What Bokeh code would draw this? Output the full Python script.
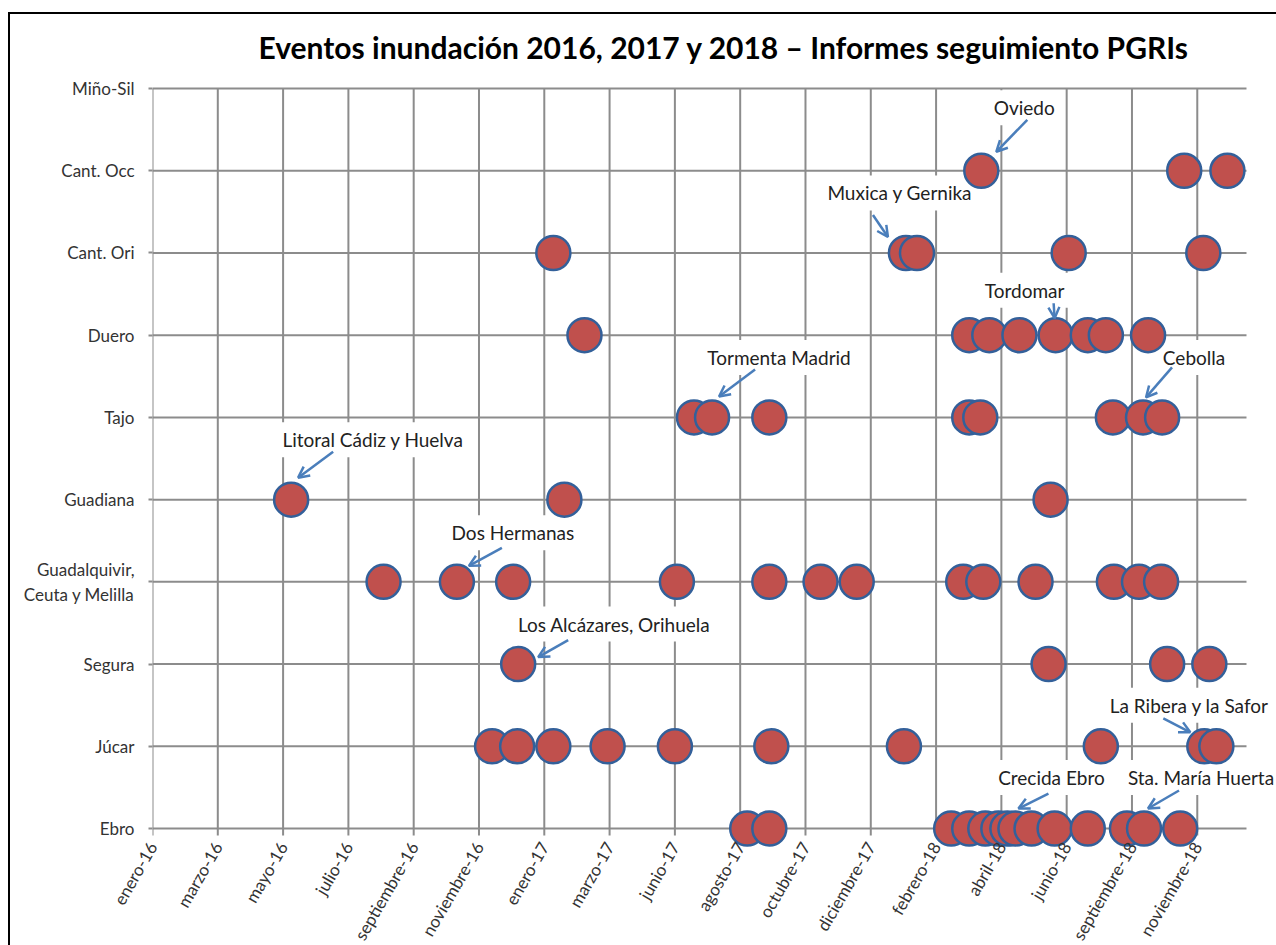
import math
import pandas as pd
from bokeh.plotting import figure
from bokeh.models import ColumnDataSource, Range1d, FixedTicker, Label, Arrow, OpenHead
from bokeh.embed import file_html
from bokeh.resources import INLINE

# ---------------- data ----------------
title_text = "Eventos inundación 2016, 2017 y 2018 – Informes seguimiento PGRIs"

basins = ["Miño-Sil", "Cant. Occ", "Cant. Ori", "Duero", "Tajo", "Guadiana",
          "Guadalquivir,\nCeuta y Melilla", "Segura", "Júcar", "Ebro"]

mino_sil = []
cant_occ = ["2018-04-05", "2018-10-24", "2018-12-06"]
cant_ori = ["2017-02-03", "2018-01-20", "2018-01-31", "2018-07-01", "2018-11-12"]
duero = ["2017-03-06", "2018-03-24", "2018-04-13", "2018-05-13", "2018-06-18",
         "2018-07-20", "2018-08-07", "2018-09-18"]
tajo = ["2017-06-23", "2017-07-11", "2017-09-06", "2018-03-24", "2018-04-04",
        "2018-08-14", "2018-09-13", "2018-10-02"]
guadiana = ["2016-05-18", "2017-02-14", "2018-06-13"]
guadalquivir = ["2016-08-18", "2016-10-30", "2016-12-25", "2017-06-06", "2017-09-06",
                "2017-10-27", "2017-12-02", "2018-03-18", "2018-04-07", "2018-05-29",
                "2018-08-15", "2018-09-09", "2018-10-01"]
segura = ["2016-12-30", "2018-06-11", "2018-10-07", "2018-11-18"]
jucar = ["2016-12-04", "2016-12-29", "2017-02-03", "2017-03-29", "2017-06-04",
         "2017-09-08", "2018-01-18", "2018-08-02", "2018-11-13", "2018-11-25"]
ebro = ["2017-08-15", "2017-09-06", "2018-03-06", "2018-03-24", "2018-04-09",
        "2018-04-22", "2018-05-01", "2018-05-09", "2018-05-25", "2018-06-17",
        "2018-07-20", "2018-08-28", "2018-09-14", "2018-10-20"]

events = [mino_sil, cant_occ, cant_ori, duero, tajo, guadiana,
          guadalquivir, segura, jucar, ebro]

tick_dates = ["2016-01-01", "2016-03-06", "2016-05-10", "2016-07-14", "2016-09-17",
              "2016-11-21", "2017-01-25", "2017-03-31", "2017-06-04", "2017-08-08",
              "2017-10-12", "2017-12-16", "2018-02-19", "2018-04-25", "2018-06-29",
              "2018-09-02", "2018-11-06"]
tick_labels = ["enero-16", "marzo-16", "mayo-16", "julio-16", "septiembre-16",
               "noviembre-16", "enero-17", "marzo-17", "junio-17", "agosto-17",
               "octubre-17", "diciembre-17", "febrero-18", "abril-18", "junio-18",
               "septiembre-18", "noviembre-18"]

x_start_date = "2016-01-01"
x_end_date = "2018-12-25"

# annotations: text, target basin, target event date
annotations = [
    ("Oviedo", "Cant. Occ", "2018-04-05"),
    ("Muxica y Gernika", "Cant. Ori", "2018-01-20"),
    ("Tordomar", "Duero", "2018-06-18"),
    ("Tormenta Madrid", "Tajo", "2017-07-11"),
    ("Cebolla", "Tajo", "2018-09-13"),
    ("Litoral Cádiz y Huelva", "Guadiana", "2016-05-18"),
    ("Dos Hermanas", "Guadalquivir,\nCeuta y Melilla", "2016-10-30"),
    ("Los Alcázares, Orihuela", "Segura", "2016-12-30"),
    ("La Ribera y la Safor", "Júcar", "2018-11-13"),
    ("Crecida Ebro", "Ebro", "2018-05-09"),
    ("Sta. María Huerta", "Ebro", "2018-09-14"),
]
# layout of each annotation (pixel offsets from the target point):
# label centre (dx, dy), arrow start (dx, dy), arrow end (dx, dy)
annotation_layout = [
    ((43, -63), (46, -51), (15, -19)),
    ((-6, -60), (-33, -38), (-18, -16)),
    ((-31, -45), (-2, -32), (-1, -17)),
    ((67, -60), (43, -48), (7, -21)),
    ((51, -60), (29, -50), (3, -20)),
    ((82, -60), (42, -48), (7, -22)),
    ((56, -49), (45, -34), (12, -16)),
    ((96, -40), (50, -24), (20, -7)),
    ((-15, -41), (-41, -28), (-14, -14)),
    ((36, -51), (33, -35), (3, -20)),
    ((57, -51), (35, -38), (4, -20)),
]

# ---------------- helpers ----------------
origin = pd.Timestamp(x_start_date)


def to_day(d):
    return (pd.Timestamp(d) - origin).days


n = len(basins)
basin_y = {b: n - i for i, b in enumerate(basins)}   # Ebro = 1 ... Miño-Sil = 10

xs, ys = [], []
for b, dates in zip(basins, events):
    for d in dates:
        xs.append(to_day(d))
        ys.append(basin_y[b])
src = ColumnDataSource(dict(x=xs, y=ys))

tick_x = [to_day(d) for d in tick_dates]
x_end = to_day(x_end_date)

# layout
W, H = 1276, 945
LEFT, TOP, BOTTOM = 152, 86, 96
FRAME_W, FRAME_H = W - LEFT, H - TOP - BOTTOM
PX_PER_DAY = 1.00459
y0, y1 = 0.745, 10.025
ppx = PX_PER_DAY
ppu = FRAME_H / (y1 - y0)        # px per basin step
x_view_end = FRAME_W / PX_PER_DAY

FONT = "Lato"
GRID = "#8C8C8C"
TEXT = "#333333"

p = figure(frame_width=FRAME_W, frame_height=FRAME_H,
           x_range=Range1d(0, x_view_end), y_range=Range1d(y0, y1),
           output_backend="svg", toolbar_location=None,
           min_border_left=LEFT, min_border_right=0,
           min_border_top=TOP, min_border_bottom=BOTTOM)
p.border_fill_color = None
p.background_fill_color = "white"
p.outline_line_color = None
p.xgrid.visible = False
p.ygrid.visible = False
# chart-area border (top and left edges)
p.styles = {"box-shadow": "inset 0 12px 0 0 #ffffff, inset 8px 0 0 0 #ffffff, "
                          "inset 0 14px 0 0 #000000, inset 10px 0 0 0 #000000"}

# title
p.title.text = title_text
p.title.text_font = FONT
p.title.text_font_size = "30px"
p.title.text_font_style = "bold"
p.title.text_color = "#000000"
p.title.align = "left"
p.title.offset = 106
p.title.standoff = 44

# grid lines drawn from the tick/category arrays (lowest layer)
cat_vals = [basin_y[b] for b in basins]
p.segment(x0=[0] * n, x1=[x_end] * n, y0=cat_vals, y1=cat_vals,
          line_color=GRID, line_width=2, level="image")
p.segment(x0=tick_x, x1=tick_x, y0=[min(cat_vals)] * len(tick_x),
          y1=[max(cat_vals)] * len(tick_x), line_color=GRID, line_width=2, level="image")
# x tick marks below the Ebro line
p.segment(x0=tick_x, x1=tick_x, y0=[min(cat_vals)] * len(tick_x),
          y1=[min(cat_vals) - 7 / ppu] * len(tick_x), line_color=GRID, line_width=2,
          level="image")

# events
p.scatter("x", "y", source=src, size=34, fill_color="#C0504D",
          line_color="#33609A", line_width=2.5)

# axes
p.yaxis.ticker = FixedTicker(ticks=cat_vals)
p.yaxis.major_label_overrides = {basin_y[b]: b for b in basins}
p.yaxis.axis_line_color = None
p.yaxis.major_tick_line_color = GRID
p.yaxis.major_tick_line_width = 2
p.yaxis.major_tick_out = 4
p.yaxis.major_tick_in = 0
p.yaxis.minor_tick_line_color = None
p.yaxis.major_label_standoff = 14
p.yaxis.major_label_text_font = FONT
p.yaxis.major_label_text_font_size = "17px"
p.yaxis.major_label_text_color = TEXT

p.xaxis.ticker = FixedTicker(ticks=tick_x)
p.xaxis.major_label_overrides = dict(zip(tick_x, tick_labels))
p.xaxis.axis_line_color = None
p.xaxis.major_tick_line_color = None
p.xaxis.major_tick_out = 0
p.xaxis.major_tick_in = 0
p.xaxis.minor_tick_line_color = None
p.xaxis.major_label_orientation = math.pi / 3
p.xaxis.major_label_standoff = -6
p.xaxis.major_label_text_font = FONT
p.xaxis.major_label_text_font_size = "17px"
p.xaxis.major_label_text_color = TEXT

# annotations: white text boxes sit under the circles but over the grid
ARROW = "#4A7EBB"
for (text, basin, date), (lab, a0, a1) in zip(annotations, annotation_layout):
    tx, ty = to_day(date), basin_y[basin]
    p.add_layout(Label(x=tx + lab[0] / ppx, y=ty - lab[1] / ppu, text=text,
                       text_align="center", text_baseline="middle",
                       text_font=FONT, text_font_size="19px", text_color="#222222",
                       background_fill_color="white", padding=6, level="underlay"))
    p.add_layout(Arrow(x_start=tx + a0[0] / ppx, y_start=ty - a0[1] / ppu,
                       x_end=tx + a1[0] / ppx, y_end=ty - a1[1] / ppu,
                       line_color=ARROW, line_width=2.5,
                       end=OpenHead(size=11, line_color=ARROW, line_width=2.5)))

open("out.html", "w").write(file_html(p, INLINE))
